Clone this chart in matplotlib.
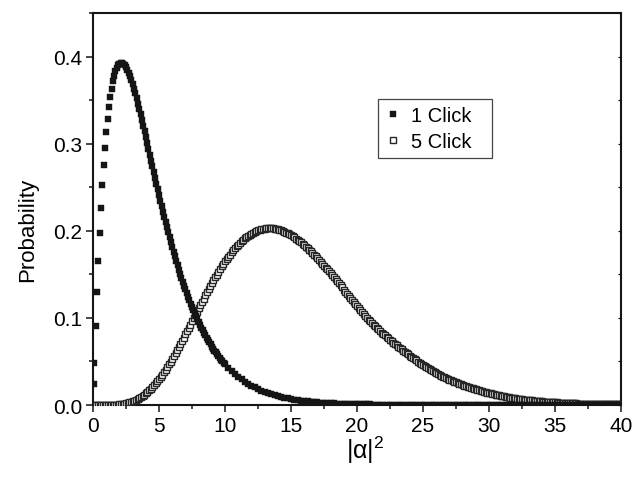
import numpy as np
import matplotlib
matplotlib.use("Agg")
import matplotlib.pyplot as plt
from matplotlib.ticker import MultipleLocator, FormatStrFormatter

plt.rcParams['font.family'] = ['Liberation Sans', 'DejaVu Sans']
plt.rcParams['mathtext.default'] = 'regular'

# 1 Click: fine steps of 0.1 up to 10, then 0.25 up to 40
x_one = np.concatenate([[0.05], np.arange(1, 101) / 10.0, 10 + np.arange(1, 121) * 0.25])
p_one = [
    0.0244,
    # 0.1 .. 4.0
    0.0477, 0.0911, 0.1303, 0.1658, 0.1978, 0.2265, 0.2521, 0.2750, 0.2952, 0.3130,
    0.3285, 0.3420, 0.3535, 0.3633, 0.3714, 0.3781, 0.3833, 0.3873, 0.3901, 0.3919,
    0.3926, 0.3925, 0.3916, 0.3900, 0.3876, 0.3847, 0.3813, 0.3773, 0.3729, 0.3681,
    0.3630, 0.3576, 0.3519, 0.3460, 0.3399, 0.3337, 0.3273, 0.3207, 0.3141, 0.3075,
    # 4.1 .. 10.0
    0.3008, 0.2941, 0.2873, 0.2806, 0.2739, 0.2672, 0.2605, 0.2539, 0.2474, 0.2409,
    0.2345, 0.2282, 0.2220, 0.2158, 0.2098, 0.2039, 0.1981, 0.1923, 0.1867, 0.1812,
    0.1758, 0.1706, 0.1654, 0.1604, 0.1555, 0.1507, 0.1460, 0.1414, 0.1369, 0.1326,
    0.1284, 0.1242, 0.1202, 0.1163, 0.1125, 0.1088, 0.1052, 0.1017, 0.0983, 0.0951,
    0.0919, 0.0888, 0.0858, 0.0828, 0.0800, 0.0773, 0.0746, 0.0720, 0.0695, 0.0671,
    0.0648, 0.0625, 0.0603, 0.0582, 0.0561, 0.0541, 0.0522, 0.0503, 0.0485, 0.0468,
    # 10.25 .. 20.0
    0.04270, 0.03894, 0.03549, 0.03233, 0.02943, 0.02678, 0.02436, 0.02215, 0.02013, 0.01829,
    0.01661, 0.01508, 0.01368, 0.01241, 0.01125, 0.01020, 0.00925, 0.00838, 0.00759, 0.00687,
    0.00622, 0.00563, 0.00510, 0.00461, 0.00417, 0.00377, 0.00341, 0.00308, 0.00279, 0.00252,
    0.00227, 0.00205, 0.00186, 0.00168, 0.00151, 0.00136, 0.00123, 0.00111, 0.00100, 0.00090,
    # 20.25 .. 25.0
    0.00081, 0.00073, 0.00066, 0.00059, 0.00054, 0.00048, 0.00044, 0.00039, 0.00035, 0.00032,
    0.00029, 0.00026, 0.00023, 0.00021, 0.00019, 0.00017, 0.00015, 0.00014, 0.00013, 0.00011,
    # 25.25 .. 40.0
    0.00010, 0.00009, 0.00008, 0.00007, 0.00007, 0.00006, 0.00005, 0.00005, 0.00004, 0.00004,
    0.00004, 0.00003, 0.00003, 0.00003, 0.00002, 0.00002, 0.00002, 0.00002, 0.00001, 0.00001,
    0.00001, 0.00001, 0.00001, 0.00001, 0.00001, 0.00001, 0.00001, 0.00001, 0.0, 0.0,
    0.0, 0.0, 0.0, 0.0, 0.0, 0.0, 0.0, 0.0, 0.0, 0.0,
    0.0, 0.0, 0.0, 0.0, 0.0, 0.0, 0.0, 0.0, 0.0, 0.0,
    0.0, 0.0, 0.0, 0.0, 0.0, 0.0, 0.0, 0.0, 0.0, 0.0,
]

# 5 Click: steps of 0.125 from 0 to 40 (one row per unit of |alpha|^2)
x_five = np.arange(0, 321) * 0.125
p_five = [
    0.0, 0.0, 0.0, 0.0, 0.0, 0.0, 0.00001, 0.00002,
    0.00003, 0.00005, 0.00008, 0.00013, 0.00019, 0.00028, 0.0004, 0.00055,
    0.00073, 0.00096, 0.00124, 0.00158, 0.00198, 0.00245, 0.00298, 0.0036,
    0.0043, 0.0051, 0.00597, 0.00696, 0.00803, 0.00923, 0.01051, 0.01193,
    0.01344, 0.01509, 0.01682, 0.0187, 0.02067, 0.02278, 0.02497, 0.0273,
    0.02974, 0.0323, 0.03494, 0.0377, 0.04056, 0.04353, 0.04657, 0.04972,
    0.05292, 0.05623, 0.0596, 0.06303, 0.0665, 0.07005, 0.07365, 0.0773,
    0.08098, 0.0847, 0.08843, 0.09218, 0.09594, 0.0997, 0.10345, 0.1072,
    0.11096, 0.11469, 0.11839, 0.12209, 0.12576, 0.12934, 0.13288, 0.13636,
    0.1398, 0.14315, 0.14646, 0.14969, 0.15288, 0.15599, 0.15905, 0.16195,
    0.16478, 0.16754, 0.17024, 0.17277, 0.17523, 0.17759, 0.17988, 0.182,
    0.18406, 0.18598, 0.18784, 0.18955, 0.19121, 0.19273, 0.19419, 0.19547,
    0.19669, 0.19772, 0.1987, 0.1996, 0.20042, 0.20103, 0.20158, 0.20205,
    0.20245, 0.20274, 0.20297, 0.20303, 0.2030, 0.2028, 0.2026, 0.2022,
    0.2017, 0.2011, 0.2004, 0.1996, 0.1988, 0.1979, 0.1969, 0.1959,
    0.1948, 0.1936, 0.1923, 0.1910, 0.1896, 0.1881, 0.1866, 0.1851,
    0.1835, 0.1818, 0.1800, 0.1782, 0.1764, 0.1745, 0.1725, 0.1705,
    0.1685, 0.1664, 0.1643, 0.1622, 0.1600, 0.1578, 0.1556, 0.1533,
    0.1510, 0.1487, 0.1464, 0.1441, 0.1418, 0.1395, 0.1372, 0.1349,
    0.1325, 0.1302, 0.1278, 0.1254, 0.1230, 0.1207, 0.1183, 0.1159,
    0.1135, 0.1112, 0.1090, 0.1067, 0.1045, 0.1023, 0.1002, 0.0981,
    0.0960, 0.0941, 0.0922, 0.0903, 0.0885, 0.0867, 0.0850, 0.0832,
    0.0815, 0.0798, 0.0782, 0.0765, 0.0749, 0.0733, 0.0717, 0.0701,
    0.0685, 0.0670, 0.0655, 0.0640, 0.0625, 0.0610, 0.0595, 0.0580,
    0.0565, 0.0551, 0.0538, 0.0524, 0.0511, 0.0497, 0.0484, 0.0471,
    0.0458, 0.0446, 0.0434, 0.0422, 0.0411, 0.0399, 0.0388, 0.0376,
    0.0365, 0.0355, 0.0345, 0.0335, 0.0326, 0.0317, 0.0308, 0.0299,
    0.0290, 0.0282, 0.0275, 0.0267, 0.0259, 0.0251, 0.0244, 0.0237,
    0.0230, 0.0223, 0.0217, 0.0210, 0.0204, 0.0198, 0.0192, 0.0186,
    0.0180, 0.0174, 0.0169, 0.0163, 0.0158, 0.0153, 0.0148, 0.0143,
    0.0138, 0.0133, 0.0129, 0.0124, 0.0120, 0.0115, 0.0111, 0.0107,
    0.0103, 0.0099, 0.0096, 0.0092, 0.0089, 0.0085, 0.0082, 0.0079,
    0.0076, 0.0073, 0.0071, 0.0068, 0.0066, 0.0063, 0.0061, 0.0058,
    0.0056, 0.0054, 0.0052, 0.0050, 0.0048, 0.0046, 0.0044, 0.0042,
    0.0041, 0.0039, 0.0038, 0.0036, 0.0035, 0.0033, 0.0032, 0.0031,
    0.0030, 0.0029, 0.0028, 0.0027, 0.0026, 0.0025, 0.0024, 0.0023,
    0.0022, 0.0021, 0.0020, 0.0019, 0.0019, 0.0018, 0.0017, 0.0016,
    0.0016, 0.0015, 0.0015, 0.0014, 0.0013, 0.0013, 0.0012, 0.0011,
    0.0011, 0.0011, 0.0010, 0.0010, 0.0010, 0.0009, 0.0009, 0.0008,
    0.0008, 0.0008, 0.0007, 0.0007, 0.0007, 0.0007, 0.0006, 0.0006,
    0.0006,
]

fig = plt.figure(figsize=(6.42, 4.81), dpi=100)
ax = fig.add_axes([0.1449, 0.1559, 0.8224, 0.8150])

ax.plot(x_five, p_five, linestyle='none', marker='s', markersize=4.0,
        markerfacecolor='white', markeredgecolor='#262626', markeredgewidth=1.0,
        label='5 Click', zorder=3)
ax.plot(x_one, p_one, linestyle='none', marker='s', markersize=3.9,
        markerfacecolor='#151515', markeredgecolor='#151515', markeredgewidth=0.3,
        label='1 Click', zorder=4)

ax.set_xlim(0, 40)
ax.set_ylim(0, 0.45)
ax.xaxis.set_major_locator(MultipleLocator(5))
ax.xaxis.set_minor_locator(MultipleLocator(2.5))
ax.yaxis.set_major_locator(MultipleLocator(0.1))
ax.yaxis.set_minor_locator(MultipleLocator(0.05))
ax.yaxis.set_major_formatter(FormatStrFormatter('%.1f'))

for s in ax.spines.values():
    s.set_linewidth(1.5)
    s.set_color('#151515')
ax.tick_params(which='both', direction='out', width=1.1, color='#151515',
               labelsize=15, top=False, right=False)
ax.tick_params(which='major', length=5, pad=3)
ax.tick_params(which='minor', length=3)

# small inward ticks on the right frame
sec = ax.secondary_yaxis('right')
sec.yaxis.set_major_locator(MultipleLocator(0.1))
sec.yaxis.set_minor_locator(MultipleLocator(0.05))
sec.tick_params(which='both', direction='in', length=2.5, width=0.9,
                color='#151515', labelright=False)
sec.spines['right'].set_visible(False)

ax.set_ylabel('Probability', fontsize=16)
ax.yaxis.set_label_coords(-0.104, 0.45)
ax.set_xlabel(r'$|α|^2$', fontsize=18)
ax.xaxis.set_label_coords(0.515, -0.074)

handles, labels = ax.get_legend_handles_labels()
leg = ax.legend(handles[::-1], labels[::-1], loc='upper left',
                bbox_to_anchor=(0.539, 0.5, 0.216, 0.281), mode='expand',
                fontsize=14.5, frameon=True,
                fancybox=False, edgecolor='#151515', markerscale=0.95,
                handlelength=0.8, handletextpad=0.5, borderpad=0.35,
                labelspacing=0.35, borderaxespad=0)
leg.get_frame().set_linewidth(0.9)

fig.savefig('out.png', dpi=100)
